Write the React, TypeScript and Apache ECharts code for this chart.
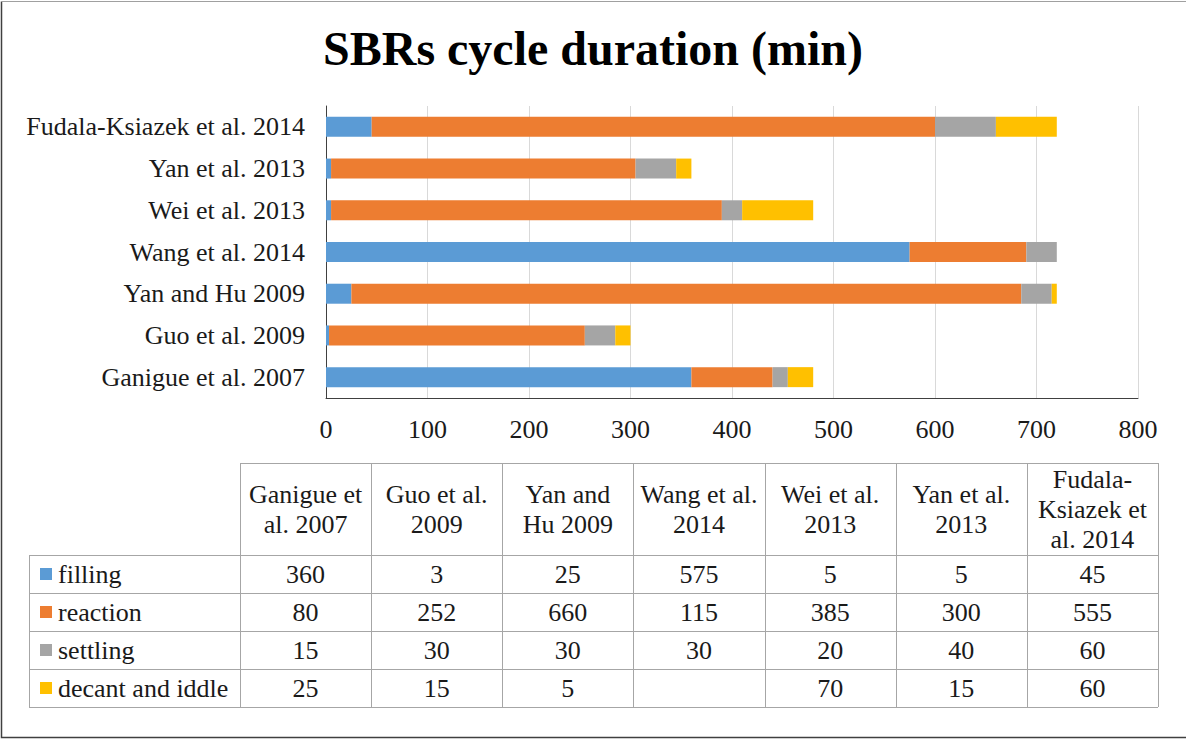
import React, { useEffect, useRef } from "react";
import * as echarts from "echarts";

const categories = [
  "Ganigue et al. 2007",
  "Guo et al. 2009",
  "Yan and Hu 2009",
  "Wang et al. 2014",
  "Wei et al. 2013",
  "Yan et al. 2013",
  "Fudala-Ksiazek et al. 2014",
];
const headerLabels = [
  "Ganigue et\nal. 2007",
  "Guo et al.\n2009",
  "Yan and\nHu 2009",
  "Wang et al.\n2014",
  "Wei et al.\n2013",
  "Yan et al.\n2013",
  "Fudala-\nKsiazek et\nal. 2014",
];
const seriesNames = ["filling", "reaction", "settling", "decant and iddle"];
const filling: (number | null)[] = [360, 3, 25, 575, 5, 5, 45];
const reaction: (number | null)[] = [80, 252, 660, 115, 385, 300, 555];
const settling: (number | null)[] = [15, 30, 30, 30, 20, 40, 60];
const decant: (number | null)[] = [25, 15, 5, null, 70, 15, 60];
const seriesData = [filling, reaction, settling, decant];
const colors = ["#5B9BD5", "#ED7D31", "#A5A5A5", "#FFC000"];
const xMin = 0;
const xMax = 800;
const xInterval = 100;
const titleText = "SBRs cycle duration (min)";

const FONT = '"Liberation Serif", "Times New Roman", serif';

export default function App() {
  const ref = useRef<HTMLDivElement>(null);
  useEffect(() => {
    if (!ref.current) return;
    const chart = echarts.init(ref.current, undefined, { renderer: "svg" });

    // table layout
    const tableLeft = 29;
    const colStart = 240;
    const colEnd = 1158;
    const nCols = categories.length;
    const colW = (colEnd - colStart) / nCols;
    const headTop = 463;
    const headBottom = 555;
    const rowH = 38;
    const nRows = seriesNames.length;
    const tableBottom = headBottom + rowH * nRows;
    const lineColor = "#A6A6A6";
    const g: any[] = [];

    // outer border
    g.push({
      type: "polyline",
      shape: { points: [[1.5, 1.5], [1.5, 737.5], [1186, 737.5]] },
      style: { stroke: "#404040", lineWidth: 1.5, fill: null },
    });
    g.push({
      type: "line",
      shape: { x1: 1.5, y1: 1.5, x2: 1186, y2: 1.5 },
      style: { stroke: "#A0A0A0", lineWidth: 1 },
    });

    const hl = (x1: number, x2: number, y: number) =>
      g.push({ type: "line", shape: { x1, y1: y + 0.5, x2, y2: y + 0.5 }, style: { stroke: lineColor, lineWidth: 1 } });
    const vl = (x: number, y1: number, y2: number) =>
      g.push({ type: "line", shape: { x1: x + 0.5, y1, x2: x + 0.5, y2 }, style: { stroke: lineColor, lineWidth: 1 } });

    hl(colStart, colEnd, headTop);
    for (let r = 0; r <= nRows; r++) hl(tableLeft, colEnd, headBottom + r * rowH);
    vl(tableLeft, headBottom, tableBottom);
    for (let c = 0; c <= nCols; c++) vl(Math.round(colStart + c * colW), headTop, tableBottom);

    const txt = (text: string, x: number, y: number, align: string) =>
      g.push({
        type: "text",
        x,
        y,
        style: {
          text,
          fontSize: 26,
          fontFamily: FONT,
          lineHeight: 30,
          fill: "#1a1a1a",
          align,
          verticalAlign: "middle",
          textAlign: align,
          textVerticalAlign: "middle",
        },
      });

    headerLabels.forEach((h, c) => {
      txt(h, colStart + (c + 0.5) * colW, (headTop + headBottom) / 2, "center");
    });
    seriesNames.forEach((name, r) => {
      const cy = headBottom + (r + 0.5) * rowH;
      g.push({
        type: "rect",
        shape: { x: 40, y: cy - 6, width: 12, height: 12 },
        style: { fill: colors[r] },
      });
      txt(name, 58, cy, "left");
      seriesData[r].forEach((v, c) => {
        if (v !== null && v !== undefined) txt(String(v), colStart + (c + 0.5) * colW, cy, "center");
      });
    });

    chart.setOption({
      animation: false,
      backgroundColor: "#ffffff",
      title: {
        text: titleText,
        left: "center",
        top: 24,
        padding: 0,
        textStyle: { fontFamily: FONT, fontSize: 48, fontWeight: "bold", color: "#000000" },
      },
      grid: { left: 326, right: 48, top: 106, bottom: 342, containLabel: false },
      xAxis: {
        type: "value",
        min: xMin,
        max: xMax,
        interval: xInterval,
        axisLine: { show: true, lineStyle: { color: "#404040", width: 1 } },
        axisTick: { show: false },
        splitLine: { show: true, lineStyle: { color: "#D9D9D9", width: 1 } },
        axisLabel: { fontFamily: FONT, fontSize: 26, color: "#1a1a1a", margin: 18 },
      },
      yAxis: {
        type: "category",
        data: categories,
        axisLine: { show: true, lineStyle: { color: "#404040", width: 1 } },
        axisTick: { show: false },
        axisLabel: { fontFamily: FONT, fontSize: 26, color: "#1a1a1a", margin: 21 },
      },
      series: seriesNames.map((name, i) => ({
        name,
        type: "bar",
        stack: "total",
        barWidth: 20,
        itemStyle: { color: colors[i] },
        data: seriesData[i],
      })),
      graphic: g,
    });
    return () => chart.dispose();
  }, []);
  return (
    <div
      ref={ref}
      style={{ position: "absolute", left: 0, top: 0, width: 1186, height: 740, background: "#fff" }}
    />
  );
}
